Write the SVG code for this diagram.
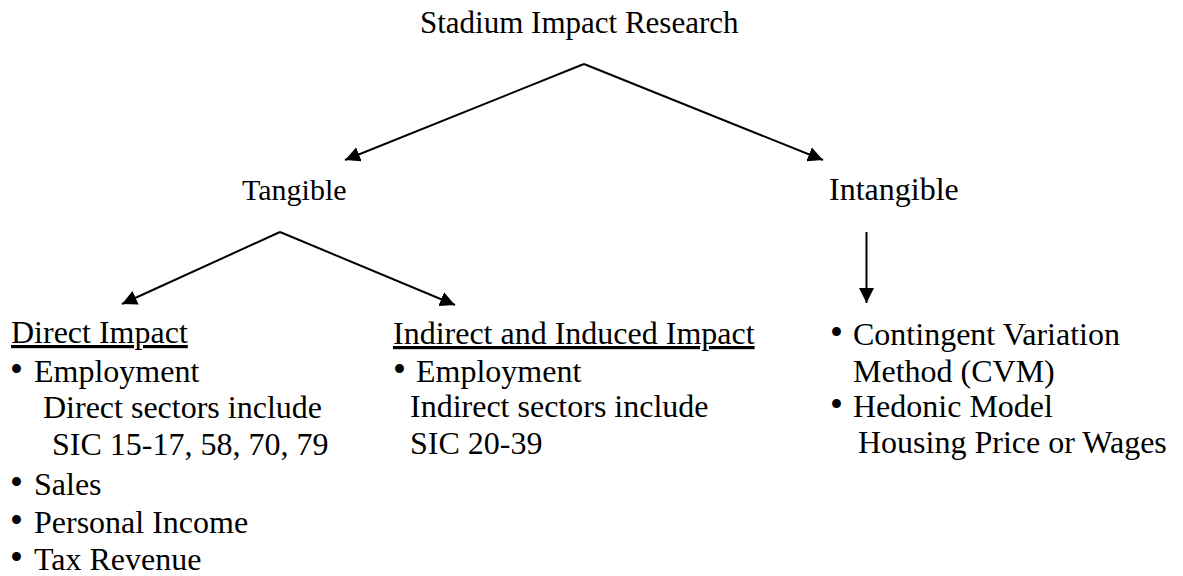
<svg xmlns="http://www.w3.org/2000/svg" width="1183" height="576" viewBox="0 0 1183 576">
<style>
text{font-family:"Liberation Serif","Times New Roman",serif;font-size:32px;fill:#000}
.u{text-decoration:underline}
.b{font-size:37px}
.c{stroke:#000;stroke-width:2;fill:none}
</style>
<defs>
<marker id="ah" markerUnits="userSpaceOnUse" markerWidth="15" markerHeight="15" refX="15" refY="7.5" orient="auto">
<path d="M0,0 L15,7.5 L0,15 z" fill="#000"/>
</marker>
</defs>
<rect width="1183" height="576" fill="#fff"/>
<g id="connectors">
<line class="c" x1="584" y1="64" x2="345" y2="160" marker-end="url(#ah)"/>
<line class="c" x1="584" y1="64" x2="823" y2="160" marker-end="url(#ah)"/>
<line class="c" x1="280" y1="232" x2="122" y2="304" marker-end="url(#ah)"/>
<line class="c" x1="280" y1="232" x2="455" y2="305" marker-end="url(#ah)"/>
<line class="c" x1="866.5" y1="232" x2="866.5" y2="303" marker-end="url(#ah)"/>
</g>
<g id="root"><text x="420" y="33" style="font-size:31px">Stadium Impact Research</text></g>
<g id="tangible"><text x="242" y="200" style="font-size:30px">Tangible</text></g>
<g id="intangible"><text x="829" y="200">Intangible</text></g>
<g id="direct">
<text x="11" y="343" class="u">Direct Impact</text>
<text y="382"><tspan x="10" class="b">•</tspan><tspan x="34">Employment</tspan></text>
<text x="43" y="418">Direct sectors include</text>
<text x="52" y="455">SIC 15-17, 58, 70, 79</text>
<text y="495"><tspan x="10" class="b">•</tspan><tspan x="34">Sales</tspan></text>
<text y="533"><tspan x="10" class="b">•</tspan><tspan x="34">Personal Income</tspan></text>
<text y="570"><tspan x="10" class="b">•</tspan><tspan x="34">Tax Revenue</tspan></text>
</g>
<g id="indirect">
<text x="393" y="344" class="u">Indirect and Induced Impact</text>
<text y="382"><tspan x="393" class="b">•</tspan><tspan x="416">Employment</tspan></text>
<text x="410" y="417">Indirect sectors include</text>
<text x="410" y="454">SIC 20-39</text>
</g>
<g id="methods">
<text y="345"><tspan x="830" class="b">•</tspan><tspan x="853">Contingent Variation</tspan></text>
<text x="853" y="382">Method (CVM)</text>
<text y="417"><tspan x="830" class="b">•</tspan><tspan x="853">Hedonic Model</tspan></text>
<text x="858" y="453">Housing Price or Wages</text>
</g>
</svg>
